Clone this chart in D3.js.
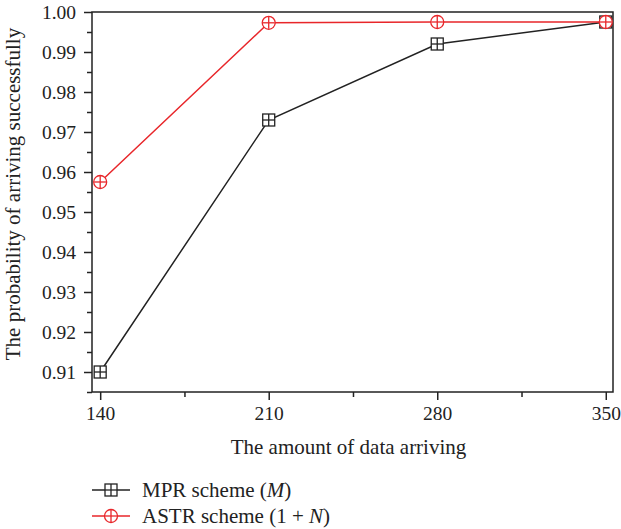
<!DOCTYPE html>
<html>
<head>
<meta charset="utf-8">
<script src="https://cdn.jsdelivr.net/npm/d3@7"></script>
<style>
  body { margin: 0; background: #fff; }
  svg text { font-family: "Liberation Serif", "DejaVu Serif", serif; fill: #222; }
</style>
</head>
<body>
<svg id="chart" width="621" height="529"></svg>
<script>
const amounts = [140, 210, 280, 350];
const mprValues = [0.910, 0.973, 0.992, 0.9975];
const astrValues = [0.9575, 0.9973, 0.9975, 0.9975];
const yTicks = [0.91, 0.92, 0.93, 0.94, 0.95, 0.96, 0.97, 0.98, 0.99, 1.00];

let svg = d3.select("#chart"),
  margin = { top: 12, right: 8, bottom: 137, left: 92 },
  width = 621 - margin.left - margin.right,
  height = 529 - margin.top - margin.bottom;

let x = d3.scaleLinear().domain([136.6, 353]).range([0, width]),
  y = d3.scaleLinear().domain([0.905, 1.0]).range([height, 0]);

let g = svg.append("g")
  .attr("transform", "translate(" + margin.left + "," + margin.top + ")");

// frame
g.append("rect")
  .attr("width", width).attr("height", height)
  .attr("fill", "none").attr("stroke", "#222").attr("stroke-width", 1.5);

// x axis major + minor
g.append("g")
  .attr("transform", `translate(0,${height})`)
  .call(d3.axisBottom(x).tickValues(amounts).tickSize(8).tickPadding(6).tickFormat(d3.format("d")));
g.append("g")
  .attr("transform", `translate(0,${height})`)
  .call(d3.axisBottom(x).tickValues([175, 245, 315]).tickSize(5).tickFormat(""));

g.append("g")
  .call(d3.axisLeft(y).tickValues(yTicks).tickSize(8).tickPadding(8).tickFormat(d3.format(".2f")));
g.append("g")
  .call(d3.axisLeft(y).tickValues(yTicks.map(v => v - 0.005)).tickSize(5).tickFormat(""));

g.selectAll(".domain").remove();
g.selectAll(".tick line").attr("stroke", "#222").attr("stroke-width", 1.5);
g.selectAll(".tick text").attr("font-size", 19.5).style("font-family", "Liberation Serif, serif").attr("fill", "#222");

// axis labels
g.append("text")
  .attr("x", width / 2 - 4).attr("y", height + 62)
  .attr("text-anchor", "middle").attr("font-size", 21)
  .text("The amount of data arriving");
g.append("text")
  .attr("transform", `translate(${-72},${height / 2 - 8}) rotate(-90)`)
  .attr("text-anchor", "middle").attr("font-size", 21)
  .text("The probability of arriving successfully");

const series = [
  { name: "MPR", values: mprValues, color: "#222", marker: "square" },
  { name: "ASTR", values: astrValues, color: "#e8262a", marker: "circle" }
];

let line = d3.line().x((d, i) => x(amounts[i])).y(d => y(d));

function drawMarker(sel, type, color) {
  if (type === "square") {
    sel.append("rect").attr("x", -6).attr("y", -6).attr("width", 12).attr("height", 12)
      .attr("fill", "#fff").attr("stroke", color).attr("stroke-width", 1.3);
  } else {
    sel.append("circle").attr("r", 6.5)
      .attr("fill", "#fff").attr("stroke", color).attr("stroke-width", 1.3);
  }
  sel.append("line").attr("x1", -6).attr("x2", 6).attr("stroke", color).attr("stroke-width", 1.3);
  sel.append("line").attr("y1", -6).attr("y2", 6).attr("stroke", color).attr("stroke-width", 1.3);
}

series.forEach(s => {
  g.append("path")
    .datum(s.values)
    .attr("fill", "none")
    .attr("stroke", s.color)
    .attr("stroke-width", 1.5)
    .attr("d", line);
});
series.forEach(s => {
  s.values.forEach((v, i) => {
    let m = g.append("g").attr("transform", `translate(${x(amounts[i])},${y(v)})`);
    drawMarker(m, s.marker, s.color);
  });
});

// legend
const legendItems = [
  { label: "MPR scheme (", ital: "M", tail: ")", color: "#222", marker: "square" },
  { label: "ASTR scheme (1 + ", ital: "N", tail: ")", color: "#e8262a", marker: "circle" }
];
legendItems.forEach((d, i) => {
  let ly = 490 + i * 26;
  let lg = svg.append("g").attr("transform", `translate(92,${ly})`);
  lg.append("line").attr("x1", 0).attr("x2", 38).attr("stroke", d.color).attr("stroke-width", 1.5);
  let m = lg.append("g").attr("transform", "translate(19,0)");
  drawMarker(m, d.marker, d.color);
  let t = lg.append("text").attr("x", 50).attr("y", 7).attr("font-size", 21);
  t.append("tspan").text(d.label);
  t.append("tspan").attr("font-style", "italic").text(d.ital);
  t.append("tspan").text(d.tail);
});
</script>
</body>
</html>
